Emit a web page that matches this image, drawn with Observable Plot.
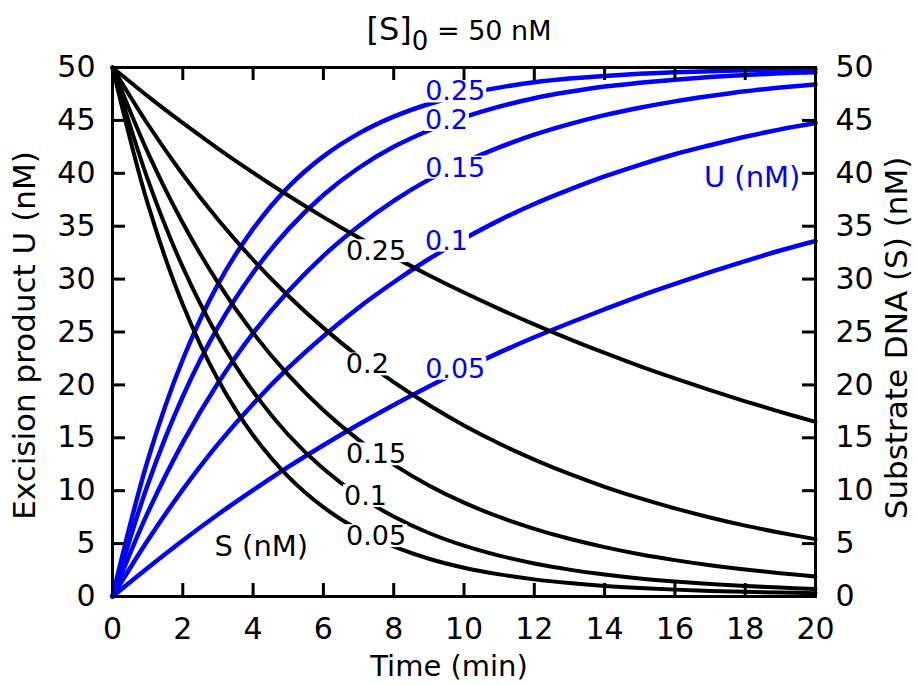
<!DOCTYPE html>
<html>
<head>
<meta charset="utf-8">
<script src="https://cdn.jsdelivr.net/npm/d3@7"></script>
<script src="https://cdn.jsdelivr.net/npm/@observablehq/plot@0.6"></script>
<style>
  body { margin: 0; background: #ffffff; }
  #chart svg { display: block; }
</style>
</head>
<body>
<div id="chart"></div>
<script>
// ---- data ----
const time = [0,1,2,3,4,5,6,7,8,9,10,11,12,13,14,15,16,17,18,19,20];

// Substrate DNA S (nM), black curves
const S_025 = [50,47.30,44.76,42.34,40.06,37.90,35.86,33.93,32.10,30.37,28.73,27.19,25.72,24.33,23.02,21.78,20.61,19.50,18.45,17.45,16.51];
const S_020 = [50,44.66,39.89,35.63,31.83,28.43,25.39,22.68,20.26,18.10,16.17,14.46,12.94,11.58,10.37,9.29,8.33,7.47,6.70,6.03,5.42];
const S_015 = [50,42.0,35.3,29.66,24.92,20.94,17.6,14.8,12.46,10.5,8.87,7.52,6.4,5.46,4.67,4.0,3.44,2.96,2.55,2.2,1.9];
const S_010 = [50,39.45,31.13,24.56,19.38,15.29,12.07,9.54,7.56,6.0,4.8,3.86,3.12,2.54,2.08,1.71,1.42,1.18,0.99,0.84,0.72];
const S_005 = [50,37.15,27.6,20.51,15.24,11.33,8.44,6.3,4.73,3.57,2.72,2.09,1.62,1.27,1.0,0.8,0.65,0.53,0.44,0.37,0.31];

// Excision product U (nM), blue curves
const U_025 = [0,12.85,22.4,29.5,34.75,38.7,41.6,43.75,45.35,46.55,47.45,48.1,48.6,48.95,49.2,49.4,49.55,49.65,49.75,49.8,49.85];
const U_020 = [0,10.55,18.9,25.45,30.6,34.7,37.95,40.5,42.5,44.05,45.3,46.3,47.1,47.7,48.2,48.55,48.85,49.1,49.3,49.45,49.55];
const U_015 = [0,7.9,14.55,20.15,24.9,28.85,32.2,35.0,37.4,39.4,41.05,42.45,43.65,44.65,45.5,46.2,46.8,47.3,47.75,48.1,48.4];
const U_010 = [0,5.3,10.1,14.4,18.2,21.6,24.6,27.3,29.7,31.9,33.8,35.55,37.1,38.45,39.7,40.8,41.8,42.65,43.45,44.15,44.75];
const U_005 = [0,2.7,5.3,7.75,10.05,12.25,14.3,16.25,18.1,19.85,21.5,23.05,24.5,25.85,27.15,28.4,29.55,30.65,31.7,32.7,33.6];

const seriesNames = ["0.25","0.2","0.15","0.1","0.05"];

// curve label anchor points (data coordinates)
const sLabelT = [7.5, 7.25, 7.5, 7.2, 7.5];
const sLabelV = [32.6, 21.9, 13.4, 9.45, 5.67];
const uLabelT = [9.75, 9.5, 9.75, 9.5, 9.75];
const uLabelV = [47.7, 45.0, 40.5, 33.6, 21.5];

const xTicks = [0,2,4,6,8,10,12,14,16,18,20];
const yTicks = [0,5,10,15,20,25,30,35,40,45,50];

const xLabel = "Time (min)";
const yLabelLeft = "Excision product U (nM)";
const yLabelRight = "Substrate DNA (S) (nM)";
const sTag = "S (nM)";
const uTag = "U (nM)";

// ---- build tables ----
const sArrays = [S_025, S_020, S_015, S_010, S_005];
const uArrays = [U_025, U_020, U_015, U_010, U_005];
const sRows = sArrays.flatMap((vals, j) => vals.map((v, i) => ({t: time[i], v, k: seriesNames[j]})));
const uRows = uArrays.flatMap((vals, j) => vals.map((v, i) => ({t: time[i], v, k: seriesNames[j]})));
const sLabels = seriesNames.map((k, j) => ({k, t: sLabelT[j], v: sLabelV[j]}));
const uLabels = seriesNames.map((k, j) => ({k, t: uLabelT[j], v: uLabelV[j]}));

const W = 918, H = 685;
const mL = 112, mR = 103, mT = 67, mB = 89;
const plotW = W - mL - mR, plotH = H - mT - mB;
const tickLen = 13;
const BLUE = "#0000ff";
const FONT = "DejaVu Sans";
const TICKFS = 30;

const chart = Plot.plot({
  width: W,
  height: H,
  marginLeft: mL,
  marginRight: mR,
  marginTop: mT,
  marginBottom: mB,
  style: {fontFamily: FONT, background: "#ffffff", color: "black"},
  x: {domain: [0, 20]},
  y: {domain: [0, 50]},
  marks: [
    // curves
    Plot.line(uRows, {x: "t", y: "v", z: "k", stroke: BLUE, strokeWidth: 4.5, curve: "catmull-rom"}),
    Plot.line(sRows, {x: "t", y: "v", z: "k", stroke: "black", strokeWidth: 4, curve: "catmull-rom"}),
    // curve labels
    Plot.text(uLabels, {x: "t", y: "v", text: "k", fill: BLUE, fontSize: 27, fontFamily: FONT}),
    Plot.text(sLabels, {x: "t", y: "v", text: "k", fill: "black", fontSize: 27, fontFamily: FONT}),
    // series tags
    Plot.text([sTag], {x: 2.9, y: 4.7, text: d => d, textAnchor: "start", fill: "black", fontSize: 29, fontFamily: FONT}),
    Plot.text([uTag], {x: 19.57, y: 39.6, text: d => d, textAnchor: "end", fill: BLUE, fontSize: 29, fontFamily: FONT}),
    // inward ticks
    Plot.tickY(yTicks, {y: d => d, insetRight: plotW - tickLen, stroke: "black", strokeWidth: 3}),
    Plot.tickY(yTicks, {y: d => d, insetLeft: plotW - tickLen, stroke: "black", strokeWidth: 3}),
    Plot.tickX(xTicks, {x: d => d, insetTop: plotH - tickLen, stroke: "black", strokeWidth: 3}),
    Plot.tickX(xTicks, {x: d => d, insetBottom: plotH - tickLen, stroke: "black", strokeWidth: 3}),
    // tick labels
    Plot.axisX(xTicks, {anchor: "bottom", tickSize: 0, tickPadding: 21, label: null, fontSize: TICKFS, fontFamily: FONT}),
    Plot.axisY(yTicks, {anchor: "left", tickSize: 0, tickPadding: 17, label: null, fontSize: TICKFS, fontFamily: FONT}),
    Plot.axisY(yTicks, {anchor: "right", tickSize: 0, tickPadding: 20, label: null, fontSize: TICKFS, fontFamily: FONT}),
    // axis titles
    Plot.text([xLabel], {frameAnchor: "bottom", text: d => d, textAnchor: "middle", lineAnchor: "middle", dx: -15, dy: 70, fontSize: 29, fontFamily: FONT, fill: "black"}),
    Plot.text([yLabelLeft], {frameAnchor: "left", text: d => d, rotate: -90, textAnchor: "middle", lineAnchor: "middle", dx: -87, dy: 3.5, fontSize: 31, fontFamily: FONT, fill: "black"}),
    Plot.text([yLabelRight], {frameAnchor: "right", text: d => d, rotate: -90, textAnchor: "middle", lineAnchor: "middle", dx: 82, dy: 6, fontSize: 31, fontFamily: FONT, fill: "black"}),
    // frame
    Plot.frame({stroke: "black", strokeWidth: 3})
  ]
});

document.getElementById("chart").appendChild(chart);

// white boxes behind the curve labels break the curves, as in the original
const svg = d3.select(chart);
svg.selectAll('g[aria-label="text"]').filter((d, i) => i < 2).each(function() {
  const g = this;
  Array.from(g.querySelectorAll("text")).forEach(t => {
    const b = t.getBBox();
    const r = document.createElementNS("http://www.w3.org/2000/svg", "rect");
    r.setAttribute("x", b.x - 1);
    r.setAttribute("y", b.y + 0.13 * b.height);
    r.setAttribute("width", b.width + 2);
    r.setAttribute("height", 0.74 * b.height);
    r.setAttribute("fill", "white");
    r.setAttribute("stroke", "none");
    const tr = t.getAttribute("transform");
    if (tr) r.setAttribute("transform", tr);
    g.insertBefore(r, t);
  });
});

// title with subscript
const title = svg.append("text")
  .attr("x", 459)
  .attr("y", 40)
  .attr("text-anchor", "middle")
  .attr("font-family", FONT)
  .attr("font-size", 27)
  .attr("fill", "black");
title.append("tspan").attr("font-size", 32).text("[S]");
title.append("tspan").attr("font-size", 26).attr("dy", 10).text("0");
title.append("tspan").attr("dy", -10).text(" = 50 nM");
</script>
</body>
</html>
